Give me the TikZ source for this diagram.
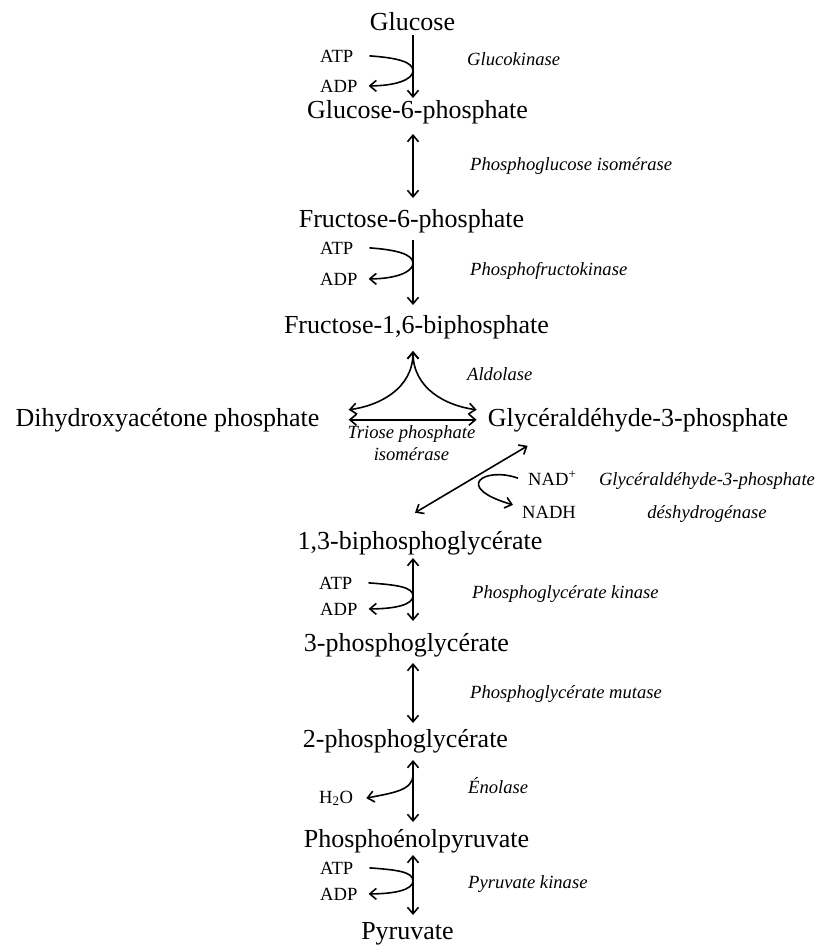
\documentclass[tikz,border=0pt]{standalone}
\usepackage{fontspec}
\setmainfont{Liberation Serif}
\usetikzlibrary{arrows.meta,calc}

\begin{document}
\begin{tikzpicture}[x=1pt,y=1pt,>={Straight Barb[length=6.5pt,width=11pt]},
        metab/.style={anchor=base,inner sep=0pt,font=\fontsize{26}{30}\selectfont},
        cofac/.style={anchor=base west,inner sep=0pt,font=\fontsize{18.6}{22}\selectfont},
        enz/.style={anchor=base west,inner sep=0pt,font=\fontsize{18.6}{22}\selectfont\itshape},
        rxn/.style={line width=1.6pt}]
        \useasboundingbox (0,0) rectangle (825,-946);
        \coordinate (spine) at (413,0);

        \node[metab] (glc) at (412.5,-30) {Glucose};
        \node[metab] (g6p) at (417.5,-118) {Glucose-6-phosphate};
        \node[metab] (f6p) at (411.5,-227) {Fructose-6-phosphate};
        \node[metab] (f16bp) at (416.5,-333) {Fructose-1,6-biphosphate};
        \node[metab] (dhap) at (167.5,-426) {Dihydroxyacétone phosphate};
        \node[metab] (gap) at (638,-426) {Glycéraldéhyde-3-phosphate};
        \node[metab] (bpg) at (420,-549) {1,3-biphosphoglycérate};
        \node[metab] (pgc) at (406.5,-651) {3-phosphoglycérate};
        \node[metab] (pgb) at (405.5,-747) {2-phosphoglycérate};
        \node[metab] (pep) at (416.5,-847) {Phosphoénolpyruvate};
        \node[metab] (pyr) at (407.5,-939) {Pyruvate};

        \node[cofac] (atpa) at (320,-62) {ATP};
        \node[cofac] (adpa) at (320,-92) {ADP};
        \node[cofac] (atpb) at (320,-254) {ATP};
        \node[cofac] (adpb) at (320,-285) {ADP};
        \node[cofac] (nadp) at (528,-485) {NAD\textsuperscript{+}};
        \node[cofac] (nadh) at (522,-518) {NADH};
        \node[cofac] (atpc) at (319,-589) {ATP};
        \node[cofac] (adpc) at (320,-615) {ADP};
        \node[cofac] (h2o) at (319,-803) {H\textsubscript{2}O};
        \node[cofac] (atpd) at (320,-874) {ATP};
        \node[cofac] (adpd) at (320,-900) {ADP};

        \node[enz] (gk) at (467,-65) {Glucokinase};
        \node[enz] (pgi) at (470,-170) {Phosphoglucose isomérase};
        \node[enz] (pfk) at (470,-275) {Phosphofructokinase};
        \node[enz] (ald) at (467,-380) {Aldolase};
        \node[enz,anchor=base,align=center] (tpi) at (411.5,-460) {Triose phosphate\\isomérase};
        \node[enz,anchor=base,align=center,font=\fontsize{18.6}{33}\selectfont\itshape] (gapdh) at (707,-518) {Glycéraldéhyde-3-phosphate\\déshydrogénase};
        \node[enz] (pgk) at (472,-598) {Phosphoglycérate kinase};
        \node[enz] (pgm) at (470,-698) {Phosphoglycérate mutase};
        \node[enz] (eno) at (468,-793) {Énolase};
        \node[enz] (pk) at (468,-888) {Pyruvate kinase};

        \foreach \a/\b/\up/\dn in {glc/g6p/5/20,f6p/f16bp/13/28}{
            \draw[rxn,->] ($(\a.base -| spine)+(0,-\up)$) -- ($(\b.base -| spine)+(0,\dn)$);
        }
        \foreach \a/\b/\up/\dn in {g6p/f6p/16/29,bpg/pgc/9/30,pgc/pgb/12/24,pgb/pep/13/25,pep/pyr/8/24}{
            \draw[rxn,<->] ($(\a.base -| spine)+(0,-\up)$) -- ($(\b.base -| spine)+(0,\dn)$);
        }
        \foreach \a/\b in {atpa/adpa,atpb/adpb,atpc/adpc,atpd/adpd}{
            \path ($(\a.east)!.5!(\b.east)$) coordinate (m);
            \draw[rxn,->] ([xshift=16pt]\a.east) .. controls +(28,-2) and +(0,9) .. (m -| spine)
                .. controls +(0,-9) and +(26,0) .. ([xshift=11pt]\b.east);
        }

        \path ($(f16bp.base -| spine)+(0,-18)$) coordinate (cusp);
        \draw[rxn,<->] ([shift={(29pt,10pt)}]dhap.east) .. controls +(30,4) and +(0,-38) .. (cusp);
        \draw[rxn,<->] (cusp) .. controls +(0,-38) and +(-30,4) .. ([shift={(-11pt,10pt)}]gap.west);
        \draw[rxn,<->] ([xshift=29pt]dhap.east) -- ([xshift=-11pt]gap.west);

        \draw[rxn,<->] ([shift={(40pt,-14pt)}]gap.south west) -- ([shift={(-5pt,18pt)}]bpg.north);
        \draw[rxn,->] ([xshift=-10pt]nadp.west) .. controls +(-33,12) and +(-61,18) .. ([shift={(-9pt,7pt)}]nadh.west);

        \draw[rxn,->] ($(pgb.base -| spine)+(0,-28)$) .. controls +(0,-16) and +(24,5) .. ([xshift=13pt]h2o.east);
    \end{tikzpicture}
\end{document}
